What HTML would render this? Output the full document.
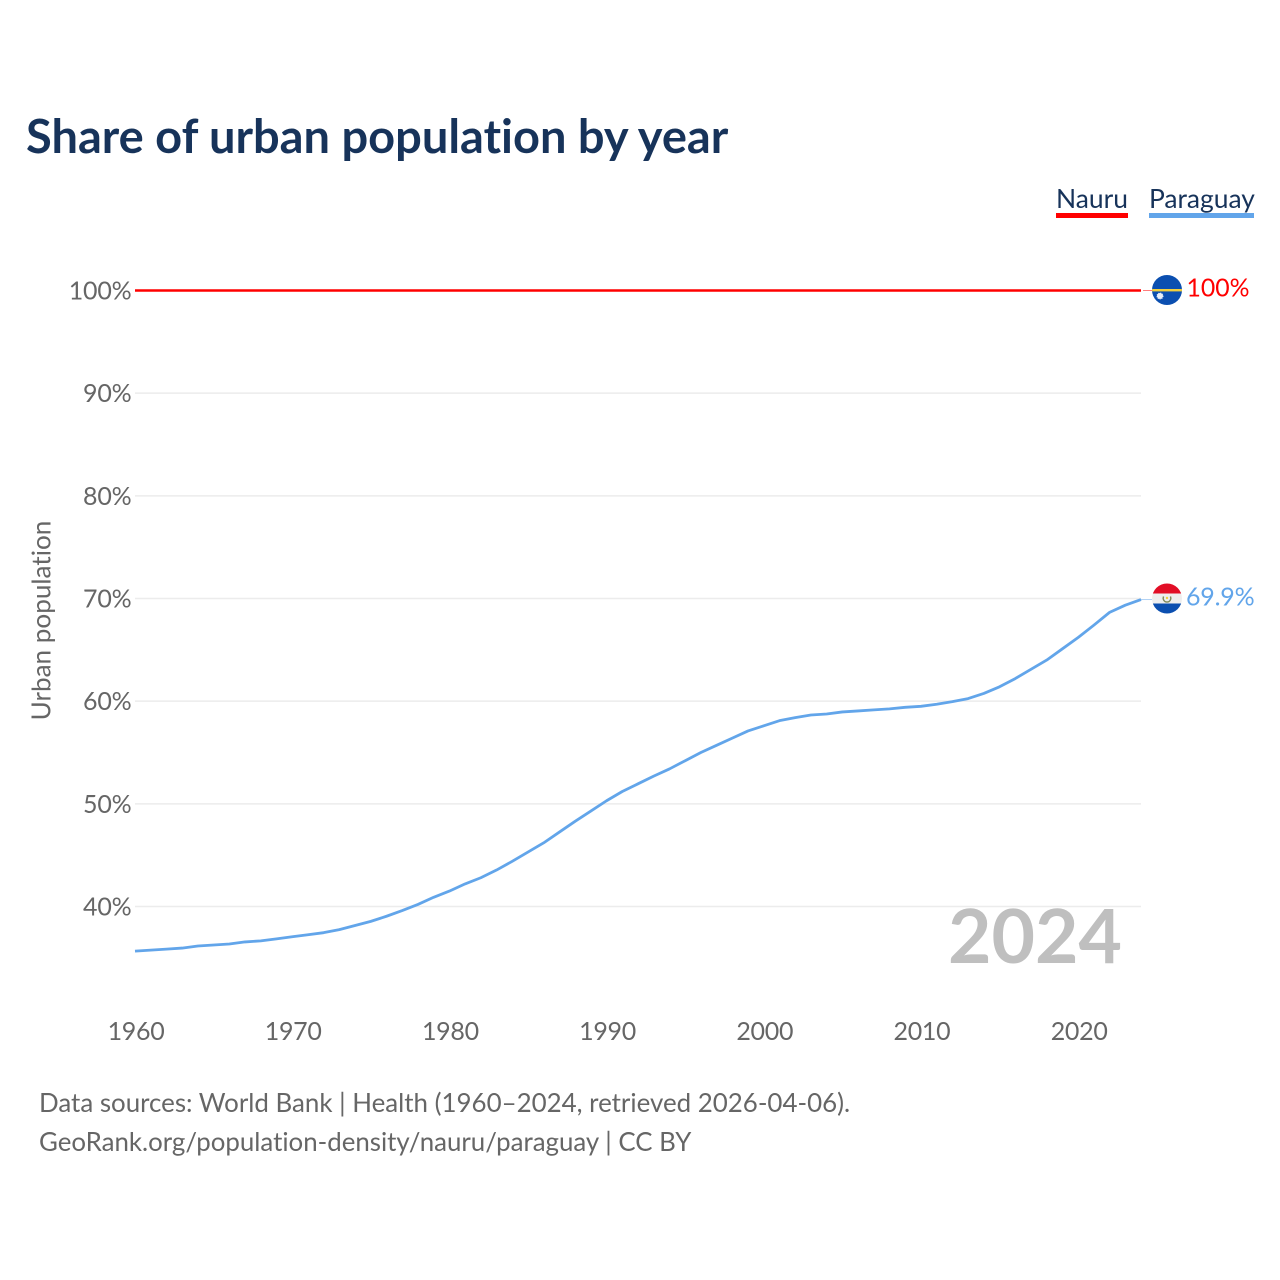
<!DOCTYPE html>
<html lang="en">
<head>
<meta charset="utf-8">
<title>Share of urban population by year</title>
<style>
html,body{margin:0;padding:0;background:#fff;}
#wrap{position:relative;width:1280px;height:1280px;overflow:hidden;}
svg{display:block;}
text{font-family:Lato,Carlito,"Liberation Sans",sans-serif;font-variant-ligatures:none;font-feature-settings:"liga" 0;}
</style>
</head>
<body>
<div id="wrap">
<svg id="chart" width="1280" height="1280" viewBox="0 0 1280 1280" xmlns="http://www.w3.org/2000/svg">
  <defs>
    <clipPath id="flag-clip-nauru"><circle cx="1167" cy="290" r="15"></circle></clipPath>
    <clipPath id="flag-clip-paraguay"><circle cx="1167" cy="598.5" r="15"></circle></clipPath>
  </defs>
  <text x="26" y="153" font-size="47" font-weight="700" fill="#17335a">Share of urban population by year</text>

  <g>
    <g>
      <text x="1056" y="208" font-size="26.4" fill="#17335a">Nauru</text>
      <rect x="1056" y="213" width="72" height="5" fill="#ff0000"></rect>
    </g>
    <g>
      <text x="1149" y="208" font-size="26.4" fill="#17335a">Paraguay</text>
      <rect x="1149" y="213" width="105" height="5" fill="#62a5ea"></rect>
    </g>
  </g>

  <g id="grid"></g>
  <g id="y-ticks"></g>
  <g id="x-ticks"></g>

  <text transform="translate(50.5 620.5) rotate(-90)" text-anchor="middle" font-size="26.1" fill="#666666">Urban population</text>

  <text x="1122" y="963" text-anchor="end" font-size="75" font-weight="700" fill="#bfbfbf">2024</text>

  <g id="series"></g>

  <g clip-path="url(#flag-clip-nauru)">
    <rect x="1152" y="275" width="30" height="30" fill="#0b4fb0"></rect>
    <rect x="1152" y="289" width="30" height="2.4" fill="#f2cf3c"></rect>
    <circle cx="1160" cy="296" r="3" fill="#e8eef8" stroke="#e8eef8" stroke-width="1" stroke-dasharray="1 1"></circle>
  </g>
  <g clip-path="url(#flag-clip-paraguay)">
    <rect x="1152" y="583.5" width="30" height="10" fill="#e20e26"></rect>
    <rect x="1152" y="593.5" width="30" height="10" fill="#eeeeee"></rect>
    <rect x="1152" y="603.5" width="30" height="10" fill="#0b4fb0"></rect>
    <path d="M1163.6 596.5 A3.8 3.8 0 1 0 1170.4 596.5" fill="none" stroke="#7f8a5c" stroke-width="1.4"></path>
    <circle cx="1167" cy="598" r="1.2" fill="#f2cf3c"></circle>
  </g>

  <text x="1186.5" y="296.5" font-size="24.8" fill="#ff0000">100%</text>
  <text x="1186" y="605.5" font-size="25" letter-spacing="-0.2" fill="#62a5ea">69.9%</text>

  <text x="39" y="1112" font-size="25.9" fill="#666666">Data sources: World Bank | Health (1960–2024, retrieved 2026-04-06).</text>
  <text x="39" y="1151" font-size="25.85" fill="#666666">GeoRank.org/population-density/nauru/paraguay | CC BY</text>
</svg>
</div>
<script>
const years = [1960,1961,1962,1963,1964,1965,1966,1967,1968,1969,1970,1971,1972,1973,1974,1975,1976,1977,1978,1979,1980,1981,1982,1983,1984,1985,1986,1987,1988,1989,1990,1991,1992,1993,1994,1995,1996,1997,1998,1999,2000,2001,2002,2003,2004,2005,2006,2007,2008,2009,2010,2011,2012,2013,2014,2015,2016,2017,2018,2019,2020,2021,2022,2023,2024];
const paraguayValues = [35.65,35.75,35.85,35.95,36.15,36.25,36.35,36.55,36.65,36.85,37.05,37.25,37.45,37.75,38.15,38.55,39.05,39.6,40.2,40.9,41.5,42.2,42.8,43.55,44.4,45.3,46.2,47.25,48.3,49.3,50.3,51.2,51.95,52.7,53.4,54.2,55.0,55.7,56.4,57.1,57.6,58.1,58.4,58.65,58.75,58.95,59.05,59.15,59.25,59.4,59.5,59.7,59.95,60.25,60.75,61.4,62.2,63.1,64.0,65.1,66.2,67.4,68.65,69.35,69.9];
const nauruValues = years.map(function(){ return 100; });
const yTickValues = [40,50,60,70,80,90,100];
const xTickValues = [1960,1970,1980,1990,2000,2010,2020];

const NS = 'http://www.w3.org/2000/svg';
const plotLeft = 135;
const plotRight = 1141;
function xScale(year){ return plotLeft + (year - 1960) * (plotRight - plotLeft) / (2024 - 1960); }
function yScale(v){ return 290.5 + (100 - v) * (906.5 - 290.5) / 60; }
function make(tag, attrs, text){
  const el = document.createElementNS(NS, tag);
  Object.keys(attrs).forEach(function(k){ el.setAttribute(k, attrs[k]); });
  if (text !== undefined) el.textContent = text;
  return el;
}
const grid = document.getElementById('grid');
const yTicks = document.getElementById('y-ticks');
const xTicks = document.getElementById('x-ticks');
const series = document.getElementById('series');

yTickValues.forEach(function(v){
  const line = make('line', {x1: plotLeft, x2: plotRight, y1: yScale(v), y2: yScale(v), stroke: '#ececec', 'stroke-width': 1.5});
  
  
  grid.appendChild(line);
  const label = make('text', {x: 131.5, y: yScale(v) + 9, 'text-anchor': 'end', 'font-size': 25, 'letter-spacing': -0.2, fill: '#666666'}, v + '%');
  
  
  yTicks.appendChild(label);
});

xTickValues.forEach(function(y){
  const label = make('text', {x: xScale(y) + 1, y: 1040, 'text-anchor': 'middle', 'font-size': 25, 'letter-spacing': -0.3, fill: '#666666'}, String(y));
  
  
  xTicks.appendChild(label);
});

function pathFrom(values){
  return values.map(function(v, i){
    return (i ? 'L' : 'M') + xScale(years[i]).toFixed(2) + ' ' + yScale(v).toFixed(2);
  }).join(' ');
}
const nauruLast = nauruValues[nauruValues.length - 1];
const nauruConnector = make('line', {x1: xScale(2024) + 2, x2: 1152, y1: yScale(nauruLast), y2: yScale(nauruLast), stroke: '#ff0000', 'stroke-width': 1, opacity: 0.5});


series.appendChild(nauruConnector);
const paraguayLast = paraguayValues[paraguayValues.length - 1];
const paraguayConnector = make('line', {x1: xScale(2024), x2: 1152, y1: yScale(paraguayLast), y2: yScale(paraguayLast), stroke: '#62a5ea', 'stroke-width': 1, opacity: 0.5});


series.appendChild(paraguayConnector);

const nauruLine = make('path', {d: pathFrom(nauruValues), fill: 'none', stroke: '#ff0000', 'stroke-width': 2.6});


series.appendChild(nauruLine);
const paraguayLine = make('path', {d: pathFrom(paraguayValues), fill: 'none', stroke: '#62a5ea', 'stroke-width': 2.8, 'stroke-linejoin': 'round'});


series.appendChild(paraguayLine);
</script>
</body>
</html>
